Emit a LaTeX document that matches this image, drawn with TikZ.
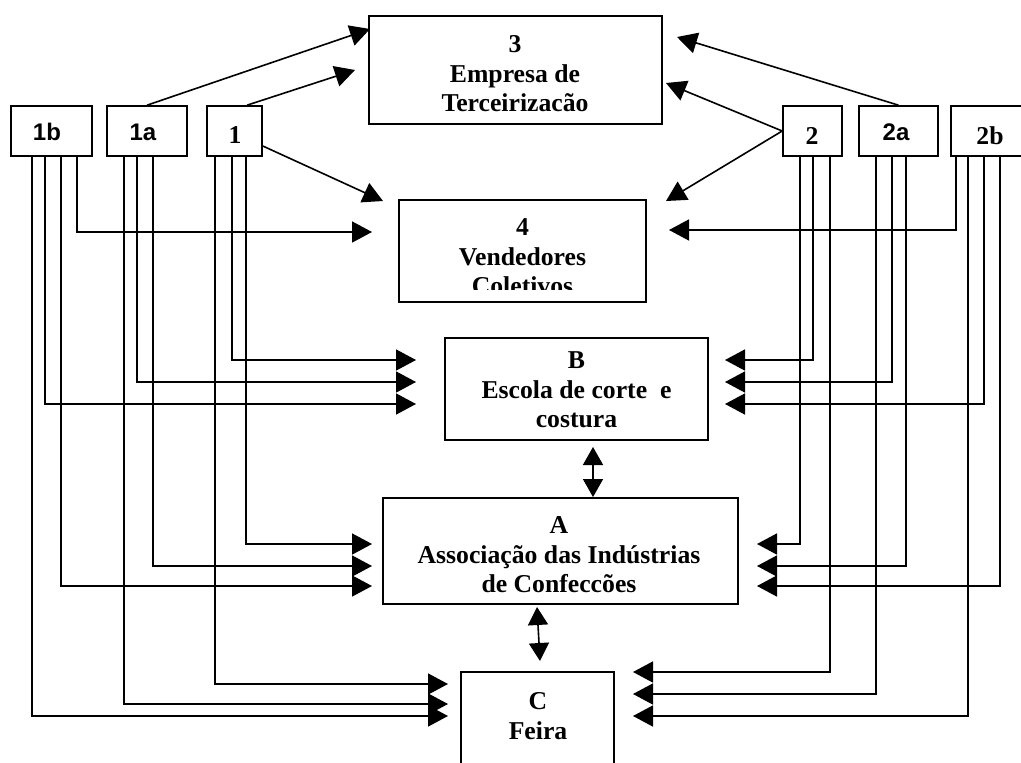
\documentclass[tikz,border=0pt]{standalone}
\usepackage{fontspec}
\setmainfont{Liberation Serif}
\newfontfamily\lsans{Liberation Sans}
\usetikzlibrary{arrows.meta}

\tikzset{
  box/.style={draw, line width=1.6pt, inner sep=0pt},
  txt/.style={inner sep=0pt, align=center, font=\bfseries\fontsize{25.7}{29.5}\selectfont},
  stxt/.style={inner sep=0pt, font=\lsans\bfseries\fontsize{24}{28}\selectfont},
  arr/.style={line width=1.6pt, -{Triangle[length=20pt,width=21pt]}},
  dbl/.style={line width=1.6pt, {Triangle[length=18pt,width=20pt]}-{Triangle[length=18pt,width=20pt]}},
}

\begin{document}
\begin{tikzpicture}[x=1pt, y=-1pt]
\useasboundingbox (0,0) rectangle (1021,763);
\fill[white] (0,0) rectangle (1021,763);
\clip (0,0) rectangle (1021,763);

% main boxes
\node[box, minimum width=293pt, minimum height=108pt] (E3) at (515.5,70) {};
\node[box, minimum width=247pt, minimum height=102pt] (V4) at (522.5,251) {};
\node[box, minimum width=263pt, minimum height=102pt] (B) at (576.5,389) {};
\node[box, minimum width=355pt, minimum height=106pt] (A) at (560.5,551) {};
\node[box, minimum width=153pt, minimum height=128pt] (C) at (537.5,736) {};

% actor boxes
\node[box, minimum width=81pt, minimum height=50pt] (n1b) at (51.5,131) {};
\node[box, minimum width=80pt, minimum height=50pt] (n1a) at (147,131) {};
\node[box, minimum width=55pt, minimum height=50pt] (n1) at (234.5,131) {};
\node[box, minimum width=59pt, minimum height=50pt] (n2) at (812.5,131) {};
\node[box, minimum width=79pt, minimum height=50pt] (n2a) at (898.5,131) {};
\node[box, minimum width=89pt, minimum height=50pt] (n2b) at (995.5,131) {};

% texts
\node[txt] (tE3) at (515,74) {3\\Empresa de\\Terceirizacão};
\begin{scope}
  \clip (399,200) rectangle (646,289);
  \node[txt] (tV4) at (522.5,257) {4\\Vendedores\\Coletivos};
\end{scope}
\node[txt] (tB) at (576.5,390) {B\\Escola de corte~~e\\costura};
\node[txt] (tA) at (559,555) {A\\Associação das Indústrias\\de Confeccões};
\node[txt] (tC) at (538,716) {C\\Feira};

\node[stxt] (l1b) at (47,132) {1b};
\node[stxt] (l1a) at (143,132) {1a};
\node[txt] (l1) at (235,135.5) {1};
\node[txt] (l2) at (812,135.5) {2};
\node[stxt] (l2a) at (896,132) {2a};
\node[txt] (l2b) at (990,136) {2b};

% arrow tips
\coordinate (tB1) at (416,360);
\coordinate (tB2) at (416,382);
\coordinate (tB3) at (416,404);
\coordinate (tA1) at (372,544);
\coordinate (tA2) at (372,566);
\coordinate (tA3) at (372,586);
\coordinate (tC1) at (448,684);
\coordinate (tC2) at (448,704);
\coordinate (tC3) at (448,716);
\coordinate (t4L) at (372,232);
\coordinate (sB1) at (725,360);
\coordinate (sB2) at (725,382);
\coordinate (sB3) at (725,404);
\coordinate (sA1) at (757,544);
\coordinate (sA2) at (757,566);
\coordinate (sA3) at (757,586);
\coordinate (sC1) at (633,672);
\coordinate (sC2) at (633,694);
\coordinate (sC3) at (633,716);
\coordinate (s4R) at (669,230);

% left group
\draw[arr] (n1b.south -| 32,0) |- (tC3);
\draw[arr] (n1b.south -| 45,0) |- (tB3);
\draw[arr] (n1b.south -| 61,0) |- (tA3);
\draw[arr] (n1b.south -| 77,0) |- (t4L);
\draw[arr] (n1a.south -| 124,0) |- (tC2);
\draw[arr] (n1a.south -| 137,0) |- (tB2);
\draw[arr] (n1a.south -| 153,0) |- (tA2);
\draw[arr] (n1.south -| 215,0) |- (tC1);
\draw[arr] (n1.south -| 232,0) |- (tB1);
\draw[arr] (n1.south -| 246,0) |- (tA1);

% right group
\draw[arr] (n2.south -| 800,0) |- (sA1);
\draw[arr] (n2.south -| 813,0) |- (sB1);
\draw[arr] (n2.south -| 830,0) |- (sC1);
\draw[arr] (n2a.south -| 876,0) |- (sC2);
\draw[arr] (n2a.south -| 892,0) |- (sB2);
\draw[arr] (n2a.south -| 906,0) |- (sA2);
\draw[arr] (n2b.south -| 956,0) |- (s4R);
\draw[arr] (n2b.south -| 968,0) |- (sC3);
\draw[arr] (n2b.south -| 984,0) |- (sB3);
\draw[arr] (n2b.south -| 1000,0) |- (sA3);

% diagonal arrows
\coordinate (d3a) at (370,29);
\coordinate (d3b) at (355,70);
\coordinate (d4a) at (383,201);
\coordinate (d3c) at (677,37);
\coordinate (d3d) at (666,83);
\coordinate (d4b) at (666,201);
\draw[arr] (n1a.north) -- (d3a);
\draw[arr] ([xshift=12.5pt]n1.north) -- (d3b);
\draw[arr] ([yshift=-15pt]n1.east) -- (d4a);
\draw[arr] (n2a.north) -- (d3c);
\draw[arr] (n2.west) -- (d3d);
\draw[arr] (n2.west) -- (d4b);

% two-way links between the central boxes
\coordinate (ba1) at (593,447);
\coordinate (ba2) at (593,497);
\coordinate (ac1) at (537,607);
\coordinate (ac2) at (540,661);
\draw[dbl] (ba1) -- (ba2);
\draw[dbl] (ac1) -- (ac2);
\end{tikzpicture}
\end{document}
